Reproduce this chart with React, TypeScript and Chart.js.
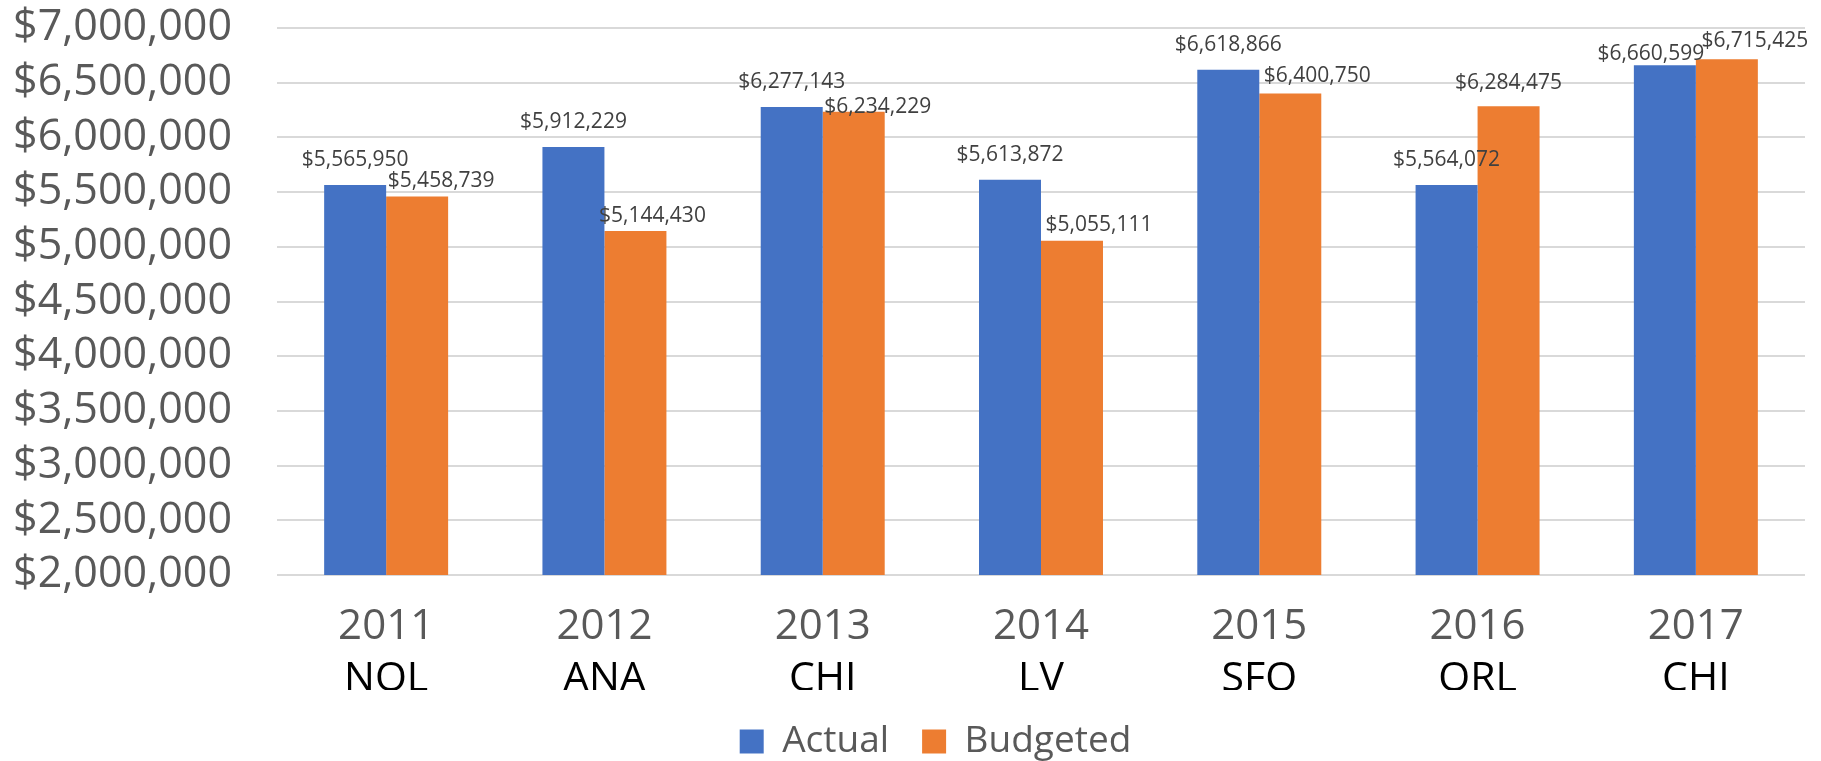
import React, { useEffect, useRef } from "react";
import { Chart, registerables } from "chart.js";

Chart.register(...registerables);

const years = ["2011", "2012", "2013", "2014", "2015", "2016", "2017"];
const cities = ["NOL", "ANA", "CHI", "LV", "SFO", "ORL", "CHI"];
const actual = [5565950, 5912229, 6277143, 5613872, 6618866, 5564072, 6660599];
const budgeted = [5458739, 5144430, 6234229, 5055111, 6400750, 6284475, 6715425];
const yMin = 2000000;
const yMax = 7000000;
const yStep = 500000;

const fmt = (v: number) => "$" + Math.round(v).toLocaleString("en-US");

const FONT = "'Open Sans', sans-serif";

// label placement tweaks (style only): [dx, dy] per dataset per category
const labelNudge = [
  [[0, 0], [0, 0], [0, 0], [0, 0], [0, 0], [0, 0], [-14, 14]],
  [[24, 9], [17, 10], [24, 20], [27, 9], [27, 7], [0, 2], [28, 7]],
];

const labelPlugin = {
  id: "barLabels",
  afterLayout(chart: any) {
    if (chart.legend) {
      chart.legend.left += 33;
      chart.legend.right += 33;
    }
  },
  afterDatasetsDraw(chart: any) {
    const ctx = chart.ctx;
    ctx.save();
    ctx.font = `21px ${FONT}`;
    ctx.fillStyle = "#404040";
    ctx.textAlign = "center";
    ctx.textBaseline = "alphabetic";
    chart.data.datasets.forEach((ds: any, i: number) => {
      const meta = chart.getDatasetMeta(i);
      meta.data.forEach((bar: any, j: number) => {
        const [dx, dy] = labelNudge[i][j];
        ctx.fillText(fmt(ds.data[j]), bar.x + dx, bar.y - 19 + dy);
      });
    });
    ctx.restore();
  },
};

export default function App() {
  const ref = useRef<HTMLCanvasElement>(null);
  useEffect(() => {
    document.body.style.margin = "0";
    const chart = new Chart(ref.current!, {
      type: "bar",
      data: {
        labels: years,
        datasets: [
          { label: "Actual", data: actual, backgroundColor: "#4472C4", barPercentage: 1, categoryPercentage: 0.568 },
          { label: "Budgeted", data: budgeted, backgroundColor: "#ED7D31", barPercentage: 1, categoryPercentage: 0.568 },
        ],
      },
      options: {
        animation: false,
        responsive: false,
        layout: { padding: { top: 28, right: 16, bottom: -9, left: 0 } },
        scales: {
          y: {
            min: yMin,
            max: yMax,
            ticks: {
              stepSize: yStep,
              autoSkip: false,
              color: "#595959",
              font: { family: FONT, size: 43 },
              padding: 45,
              callback: (v: any) => fmt(Number(v)),
            },
            grid: { color: "#d9d9d9", lineWidth: 2, drawTicks: false },
            border: { display: false },
            afterFit: (s: any) => {
              s.width = 277;
              s.paddingTop = 0;
              s.paddingBottom = 0;
            },
          },
          x: {
            ticks: { color: "#595959", font: { family: FONT, size: 42 }, padding: 19 },
            grid: { display: false },
            border: { display: false },
            afterFit: (s: any) => { s.height = 64; },
          },
          x2: {
            type: "category",
            labels: cities,
            position: "bottom",
            ticks: { color: "#000000", font: { family: FONT, size: 41 }, padding: 8 },
            grid: { display: false },
            border: { display: false },
            afterFit: (s: any) => { s.height = 51; },
          },
        },
        plugins: {
          legend: {
            position: "bottom",
            labels: {
              color: "#595959",
              font: { family: FONT, size: 37 },
              boxWidth: 24,
              boxHeight: 24,
              padding: 33,
            },
          },
          tooltip: { enabled: false },
        },
      },
      plugins: [labelPlugin],
    });
    return () => chart.destroy();
  }, []);
  return <canvas ref={ref} width={1821} height={761} style={{ display: "block" }} />;
}
